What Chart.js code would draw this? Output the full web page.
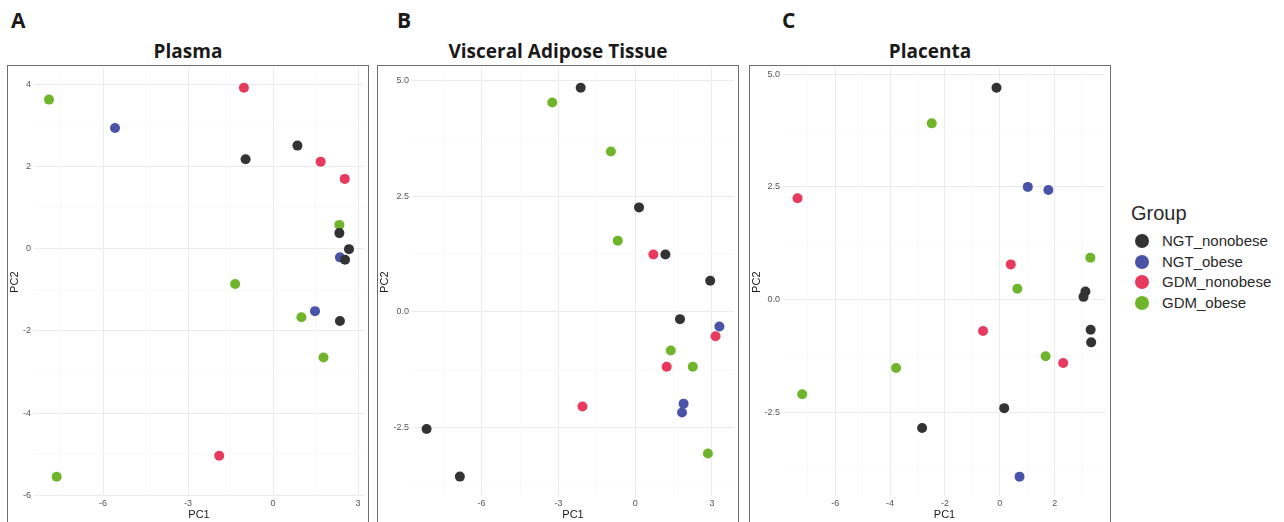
<!DOCTYPE html>
<html>
<head>
<meta charset="utf-8">
<title>PCA by tissue</title>
<script src="https://cdn.jsdelivr.net/npm/chart.js@4.4.1/dist/chart.umd.min.js"></script>
<style>
  body { margin: 0; width: 1284px; height: 522px; background: #fff; position: relative; overflow: hidden; font-family: "Liberation Sans", Arial, sans-serif; }
  .letter { position: absolute; top: 6px; font: bold 21px "Open Sans", sans-serif; color: #1a1a1a; }
  .title { position: absolute; top: 38px; width: 362px; text-align: center; font: bold 19px "Open Sans", sans-serif; color: #1a1a1a; }
  .box { position: absolute; top: 65px; width: 360px; height: 480px; border: 1px solid #6e6e6e; }
  canvas { position: absolute; top: 60px; }
  .legend { position: absolute; left: 1131px; top: 202px; color: #2a2a2a; }
  .legend .head { font-size: 20px; margin-bottom: 6px; }
  .legend .item { height: 20.7px; line-height: 20.7px; font-size: 15px; position: relative; padding-left: 31px; }
  .legend .dot { position: absolute; left: 4px; top: 3px; width: 14px; height: 14px; border-radius: 50%; }
</style>
</head>
<body>
<div class="letter" style="left:11px">A</div>
<div class="letter" style="left:397px">B</div>
<div class="letter" style="left:782px">C</div>

<div class="title" style="left:7px">Plasma</div>
<div class="title" style="left:377px">Visceral Adipose Tissue</div>
<div class="title" style="left:749px">Placenta</div>

<div class="box" style="left:7px"></div>
<div class="box" style="left:377px"></div>
<div class="box" style="left:749px"></div>

<canvas id="plasmaChart" width="362" height="462" style="left:7px"></canvas>
<canvas id="vatChart" width="362" height="462" style="left:377px"></canvas>
<canvas id="placentaChart" width="362" height="462" style="left:749px"></canvas>

<div class="legend" id="legend"><div class="head">Group</div></div>

<script>
// groups and colours
const groups = ['NGT_nonobese', 'NGT_obese', 'GDM_nonobese', 'GDM_obese'];
const groupColors = ['#333333', '#4a53a8', '#e8395e', '#6fb52c'];

// Plasma: [PC1, PC2]
const plasmaNgtNonobese = [[-0.97, 2.18], [0.86, 2.51], [2.34, 0.38], [2.68, -0.01], [2.54, -0.27], [2.36, -1.76]];
const plasmaNgtObese = [[-5.58, 2.94], [2.36, -0.21], [1.48, -1.52]];
const plasmaGdmNonobese = [[-1.03, 3.92], [1.68, 2.12], [2.53, 1.70], [-1.90, -5.04]];
const plasmaGdmObese = [[-7.91, 3.63], [2.34, 0.58], [-1.34, -0.86], [1.00, -1.67], [1.78, -2.65], [-7.64, -5.55]];

// Visceral adipose tissue
const vatNgtNonobese = [[-2.13, 4.85], [0.15, 2.26], [1.18, 1.24], [2.93, 0.67], [1.75, -0.16], [-8.15, -2.54], [-6.85, -3.57]];
const vatNgtObese = [[3.29, -0.32], [1.89, -1.99], [1.83, -2.18]];
const vatGdmNonobese = [[0.71, 1.24], [3.14, -0.53], [1.23, -1.19], [-2.06, -2.05]];
const vatGdmObese = [[-3.24, 4.53], [-0.95, 3.47], [-0.68, 1.54], [1.39, -0.84], [2.25, -1.19], [2.84, -3.07]];

// Placenta
const placentaNgtNonobese = [[-0.12, 4.70], [3.12, 0.18], [3.05, 0.06], [3.31, -0.67], [3.33, -0.95], [0.16, -2.41], [-2.83, -2.85]];
const placentaNgtObese = [[1.02, 2.50], [1.77, 2.43], [0.72, -3.93]];
const placentaGdmNonobese = [[-7.37, 2.25], [0.40, 0.78], [-0.61, -0.70], [2.31, -1.41]];
const placentaGdmObese = [[-2.48, 3.91], [3.30, 0.93], [0.64, 0.24], [1.67, -1.26], [-3.78, -1.52], [-7.20, -2.10]];

// tick values (labelled) and minor grid values
const plasmaXTicks = [-6, -3, 0, 3];
const plasmaXMinor = [-7.5, -4.5, -1.5, 1.5];
const plasmaYTicks = [-6, -4, -2, 0, 2, 4];
const plasmaYMinor = [-5, -3, -1, 1, 3];
const vatXTicks = [-6, -3, 0, 3];
const vatXMinor = [-7.5, -4.5, -1.5, 1.5];
const vatYTicks = [-2.5, 0, 2.5, 5];
const vatYMinor = [-3.75, -1.25, 1.25, 3.75];
const placentaXTicks = [-6, -4, -2, 0, 2];
const placentaXMinor = [-7, -5, -3, -1, 1, 3];
const placentaYTicks = [-2.5, 0, 2.5, 5];
const placentaYMinor = [-3.75, -1.25, 1.25, 3.75];

const toPoints = pairs => pairs.map(p => ({ x: p[0], y: p[1] }));

function axis(min, max, major, minor, decimals, title, fitSize, vertical) {
    return {
        type: 'linear',
        min: min,
        max: max,
        border: { display: false },
        grid: {
            drawTicks: false,
            color: ctx => major.includes(ctx.tick.value) ? '#ebebeb' : '#f5f5f5',
            lineWidth: ctx => major.includes(ctx.tick.value) ? 1 : 0.6
        },
        afterBuildTicks: scale => {
            scale.ticks = major.concat(minor).sort((a, b) => a - b).map(v => ({ value: v }));
        },
        afterFit: scale => {
            if (vertical) scale.width = fitSize; else scale.height = fitSize;
        },
        ticks: {
            autoSkip: false,
            maxRotation: 0,
            padding: vertical ? 3 : 2,
            color: '#555555',
            font: { family: 'Liberation Sans', size: 9 },
            callback: v => major.includes(v) ? v.toFixed(decimals) : ''
        },
        title: {
            display: true,
            text: title,
            color: '#1a1a1a',
            font: { family: 'Liberation Sans', size: 11 },
            padding: vertical ? { top: 1.4, bottom: 0 } : { top: 0, bottom: 0.4 }
        }
    };
}

function makePanel(id, sets, xr, yr, xMajor, xMinor, yMajor, yMinor, yDec, yWidth, rightPad) {
    new Chart(document.getElementById(id).getContext('2d'), {
        type: 'scatter',
        data: {
            datasets: sets.map((s, i) => ({
                label: groups[i],
                data: toPoints(s),
                backgroundColor: groupColors[i],
                borderWidth: 0,
                pointRadius: 5,
                pointHoverRadius: 5
            }))
        },
        options: {
            responsive: false,
            animation: false,
            devicePixelRatio: 1,
            layout: { padding: { top: 8, right: rightPad, left: 0, bottom: 0 } },
            plugins: { legend: { display: false }, tooltip: { enabled: false } },
            scales: {
                x: axis(xr[0], xr[1], xMajor, xMinor, 0, 'PC1', 26, false),
                y: axis(yr[0], yr[1], yMajor, yMinor, yDec, 'PC2', yWidth, true)
            }
        }
    });
}

document.addEventListener('DOMContentLoaded', function() {
    makePanel('plasmaChart',
        [plasmaNgtNonobese, plasmaNgtObese, plasmaGdmNonobese, plasmaGdmObese],
        [-8.44, 3.21], [-6.02, 4.39],
        plasmaXTicks, plasmaXMinor, plasmaYTicks, plasmaYMinor, 0, 27, 4);

    makePanel('vatChart',
        [vatNgtNonobese, vatNgtObese, vatGdmNonobese, vatGdmObese],
        [-8.72, 3.86], [-3.99, 5.27],
        vatXTicks, vatXMinor, vatYTicks, vatYMinor, 1, 35, 1);

    makePanel('placentaChart',
        [placentaNgtNonobese, placentaNgtObese, placentaGdmNonobese, placentaGdmObese],
        [-7.9, 3.87], [-4.36, 5.13],
        placentaXTicks, placentaXMinor, placentaYTicks, placentaYMinor, 1, 34, 2);

    // legend
    const legend = document.getElementById('legend');
    groups.forEach((g, i) => {
        const row = document.createElement('div');
        row.className = 'item';
        row.innerHTML = '<span class="dot" style="background:' + groupColors[i] + '"></span>' + g;
        legend.appendChild(row);
    });
});
</script>
</body>
</html>
